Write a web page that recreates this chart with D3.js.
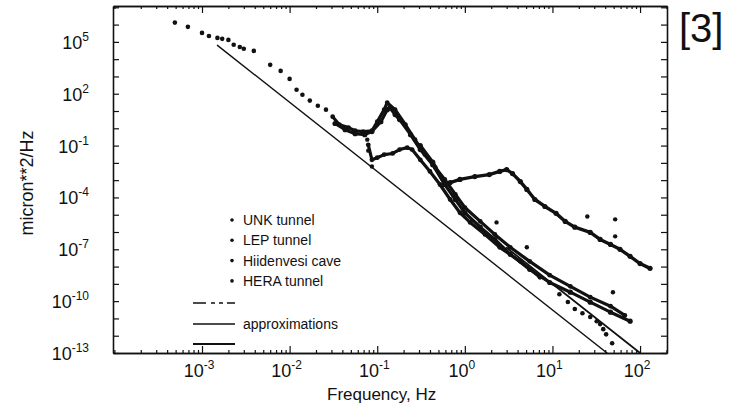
<!DOCTYPE html>
<html>
<head>
<meta charset="utf-8">
<script src="https://cdn.jsdelivr.net/npm/d3@7"></script>
<style>
  body { margin: 0; background: #fff; }
  text { font-family: "Liberation Sans", Arial, sans-serif; fill: #111; }
</style>
</head>
<body>
<div class="chart"></div>
<script>
// ground motion spectra

// UNK tunnel: isolated low-frequency points, then the connected part
var unkDotFreq = [4.9e-4, 6.9e-4, 1.0e-3, 1.2e-3, 1.5e-3, 1.7e-3, 2.0e-3, 2.3e-3, 2.7e-3, 3.0e-3, 3.9e-3, 6.0e-3, 7.9e-3, 1.0e-2, 1.2e-2, 1.4e-2, 1.7e-2, 2.1e-2, 2.6e-2];
var unkDotPsd = [1.3e6, 7.4e5, 3.3e5, 2.2e5, 1.7e5, 1.5e5, 1.3e5, 6.8e4, 5.1e4, 4.0e4, 3.0e4, 4.7e3, 2.1e3, 720, 170, 87, 40, 20, 12];
var unkFreq = [3.1e-2, 3.7e-2, 4.7e-2, 5.6e-2, 6.9e-2, 8.7e-2, 0.10, 0.12, 0.13, 0.16, 0.21, 0.27, 0.35, 0.46, 0.59, 0.78, 1.0, 1.5, 2.2, 3.3, 5.5, 9.3, 16, 27, 46, 67];
var unkPsd = [4.7, 1.6, 1.1, 0.72, 0.65, 0.72, 2.4, 12, 30, 12, 1.6, 0.22, 0.030, 5.4e-3, 1.1e-3, 1.5e-4, 2.6e-5, 4.1e-6, 7.2e-7, 1.3e-7, 2.0e-8, 3.2e-9, 7.2e-10, 1.7e-10, 5.1e-11, 1.5e-11];

// LEP tunnel
var lepFreq = [3.3e-2, 4.3e-2, 5.6e-2, 7.2e-2, 8.7e-2, 0.11, 0.13, 0.14, 0.16, 0.18, 0.24, 0.31, 0.43, 0.59, 0.78, 1.0, 1.5, 2.2, 3.3, 5.5, 9.3, 16, 27, 46, 77];
var lepPsd = [1.9, 0.83, 0.49, 0.43, 0.65, 2.4, 12, 15, 6.2, 3.2, 0.43, 0.059, 7.9e-3, 5.6e-4, 7.6e-5, 1.3e-5, 1.9e-6, 3.7e-7, 5.1e-8, 6.9e-9, 1.2e-9, 3.3e-10, 8.7e-11, 2.3e-11, 6.9e-12];

// Hiidenvesi cave
var hiidFreq = [7.9e-2, 8.7e-2, 0.10, 0.12, 0.15, 0.18, 0.22, 0.25, 0.31, 0.40, 0.52, 0.68, 0.88, 1.15, 1.7, 2.5, 4.3, 7.2];
var hiidPsd = [0.11, 0.015, 0.020, 0.030, 0.035, 0.059, 0.076, 0.059, 0.015, 3.2e-3, 5.6e-4, 7.6e-5, 1.3e-5, 3.6e-6, 7.2e-7, 1.3e-7, 2.0e-8, 2.4e-9];
var hiidDotFreq = [12, 15, 18, 22, 27, 32, 35, 38, 41, 48];
var hiidDotPsd = [2.5e-10, 9.0e-11, 3.5e-11, 2.0e-11, 1.2e-11, 6.9e-12, 4.7e-12, 2.4e-12, 1.2e-12, 3.7e-13];

// HERA tunnel
var heraFreq = [0.31, 0.43, 0.59, 0.68, 0.88, 1.3, 1.9, 2.5, 3.0, 3.5, 4.3, 5.1, 6.3, 8.2, 11, 14, 18, 27, 35, 46, 59, 77, 100, 130];
var heraPsd = [0.10, 0.011, 5.6e-4, 7.2e-4, 1.1e-3, 1.6e-3, 2.1e-3, 3.2e-3, 4.1e-3, 2.4e-3, 8.3e-4, 2.9e-4, 7.6e-5, 3.0e-5, 1.2e-5, 4.1e-6, 1.9e-6, 9.5e-7, 3.7e-7, 1.9e-7, 1.0e-7, 3.9e-8, 1.5e-8, 7.9e-9];

// stray points
var strayFreq = [0.077, 0.079, 0.087, 2.3, 5.1, 25, 52, 52, 49];
var strayPsd = [0.22, 0.051, 6.2e-3, 3.6e-6, 1.3e-7, 7.9e-6, 5.4e-6, 5.6e-7, 3.3e-10];

// approximation lines
var approxLowFreq = [1.5e-3, 42];
var approxLowPsd = [6.3e4, 1.0e-13];
var approxHighFreq = [3, 100];
var approxHighPsd = [1.23e-7, 1.0e-13];

// axis ticks
var xMajor = [1e-3, 1e-2, 1e-1, 1e0, 1e1, 1e2];
var xExp = ["-3", "-2", "-1", "0", "1", "2"];
var yMajor = [1e-13, 1e-12, 1e-11, 1e-10, 1e-9, 1e-8, 1e-7, 1e-6, 1e-5, 1e-4, 1e-3, 1e-2, 1e-1, 1e0, 1e1, 1e2, 1e3, 1e4, 1e5, 1e6, 1e7];
var yLabelVals = [1e5, 1e2, 1e-1, 1e-4, 1e-7, 1e-10, 1e-13];
var yExp = ["5", "2", "-1", "-4", "-7", "-10", "-13"];

var legendNames = ["UNK tunnel", "LEP tunnel", "Hiidenvesi cave", "HERA tunnel"];

var svgWidth = 733;
var svgHeight = 410;
var margin = { top: 6, right: 66, bottom: 57, left: 113 };
var chartWidth = svgWidth - margin.left - margin.right;
var chartHeight = svgHeight - margin.top - margin.bottom;

var svg = d3.select(".chart").append("svg")
  .attr("width", svgWidth)
  .attr("height", svgHeight);

var chartGroup = svg.append("g")
  .attr("transform", `translate(${margin.left}, ${margin.top})`);

var x = d3.scaleLog().domain([9.64e-5, 203]).range([0, chartWidth]);
var y = d3.scaleLog().domain([1e-13, 1.19e7]).range([chartHeight, 0]);

// clip for the data
chartGroup.append("clipPath").attr("id", "clip")
  .append("rect").attr("width", chartWidth).attr("height", chartHeight);

var xMinor = x.ticks().filter(function (t) { return xMajor.indexOf(t) < 0; });

function styleAxis(g) {
  g.selectAll("path.domain").attr("stroke", "#111").attr("stroke-width", 1.6);
  g.selectAll(".tick line").attr("stroke", "#111").attr("stroke-width", 1.2);
  g.selectAll(".tick text").remove();
}

// bottom axis
chartGroup.append("g").attr("transform", `translate(0, ${chartHeight})`)
  .call(d3.axisBottom(x).tickValues(xMinor).tickSizeInner(-3).tickSizeOuter(0)).call(styleAxis);
chartGroup.append("g").attr("transform", `translate(0, ${chartHeight})`)
  .call(d3.axisBottom(x).tickValues(xMajor).tickSizeInner(-7).tickSizeOuter(0)).call(styleAxis);
// top axis
chartGroup.append("g")
  .call(d3.axisTop(x).tickValues(xMinor).tickSizeInner(-3).tickSizeOuter(0)).call(styleAxis);
chartGroup.append("g")
  .call(d3.axisTop(x).tickValues(xMajor).tickSizeInner(-7).tickSizeOuter(0)).call(styleAxis);
// left and right
chartGroup.append("g")
  .call(d3.axisLeft(y).tickValues(yMajor).tickSizeInner(-6).tickSizeOuter(0)).call(styleAxis);
chartGroup.append("g").attr("transform", `translate(${chartWidth}, 0)`)
  .call(d3.axisRight(y).tickValues(yMajor).tickSizeInner(-6).tickSizeOuter(0)).call(styleAxis);

// tick labels with superscripts
yLabelVals.forEach(function (v, i) {
  var t = chartGroup.append("text")
    .attr("x", -24)
    .attr("y", y(v) + 7)
    .attr("text-anchor", "end");
  t.append("tspan").attr("font-size", 18).text("10");
  t.append("tspan").attr("font-size", 12).attr("dy", -8).text(yExp[i]);
});

xMajor.forEach(function (v, i) {
  var t = chartGroup.append("text")
    .attr("x", x(v) - 3)
    .attr("y", chartHeight + 24)
    .attr("text-anchor", "middle");
  t.append("tspan").attr("font-size", 18).text("10");
  t.append("tspan").attr("font-size", 12).attr("dy", -8).text(xExp[i]);
});

// axis titles
svg.append("text")
  .attr("transform", "translate(33, 183) rotate(-90)")
  .attr("text-anchor", "middle")
  .attr("font-size", 18)
  .text("micron**2/Hz");

svg.append("text")
  .attr("x", 327)
  .attr("y", 400)
  .attr("font-size", 17)
  .text("Frequency, Hz");

svg.append("text")
  .attr("x", 679)
  .attr("y", 42)
  .attr("font-size", 40)
  .text("[3]");

// data
var plot = chartGroup.append("g").attr("clip-path", "url(#clip)");

var line = d3.line()
  .x(function (d) { return x(d[0]); })
  .y(function (d) { return y(d[1]); });

function drawLine(freq, psd, width, dash) {
  plot.append("path")
    .datum(d3.zip(freq, psd))
    .attr("d", line)
    .attr("fill", "none")
    .attr("stroke", "#111")
    .attr("stroke-width", width)
    .attr("stroke-dasharray", dash || null)
    .attr("stroke-linejoin", "round")
    .attr("stroke-linecap", "round");
}

function drawDots(freq, psd, r) {
  plot.append("g").selectAll("circle")
    .data(d3.zip(freq, psd))
    .enter()
    .append("circle")
    .attr("cx", function (d) { return x(d[0]); })
    .attr("cy", function (d) { return y(d[1]); })
    .attr("r", r)
    .attr("fill", "#111");
}

// approximations
drawLine(approxLowFreq, approxLowPsd, 1.4);
drawLine(approxHighFreq, approxHighPsd, 1.8);

drawDots(unkDotFreq, unkDotPsd, 2.3);
drawLine(unkFreq, unkPsd, 3.2);
drawDots(unkFreq, unkPsd, 2.4);
drawLine(lepFreq, lepPsd, 3.2);
drawDots(lepFreq, lepPsd, 2.6);
drawLine(hiidFreq, hiidPsd, 3.2);
drawDots(hiidFreq, hiidPsd, 2.4);
drawDots(hiidDotFreq, hiidDotPsd, 2.3);
drawLine(heraFreq, heraPsd, 3.4);
drawDots(heraFreq, heraPsd, 2.6);
drawDots(strayFreq, strayPsd, 2.2);

// legend
var legend = svg.append("g");
legendNames.forEach(function (name, i) {
  var ly = 220 + i * 20.3;
  legend.append("circle").attr("cx", 232).attr("cy", ly).attr("r", 1.8).attr("fill", "#111");
  legend.append("text").attr("x", 243).attr("y", ly + 5).attr("font-size", 14).text(name);
});
legend.append("line").attr("x1", 193).attr("x2", 235).attr("y1", 303).attr("y2", 303)
  .attr("stroke", "#111").attr("stroke-width", 1.6).attr("stroke-dasharray", "13,5,4,4,4,4");
legend.append("line").attr("x1", 193).attr("x2", 235).attr("y1", 324).attr("y2", 324)
  .attr("stroke", "#111").attr("stroke-width", 1.3);
legend.append("line").attr("x1", 193).attr("x2", 235).attr("y1", 344).attr("y2", 344)
  .attr("stroke", "#111").attr("stroke-width", 2);
legend.append("text").attr("x", 243).attr("y", 329).attr("font-size", 14).text("approximations");
</script>
</body>
</html>
